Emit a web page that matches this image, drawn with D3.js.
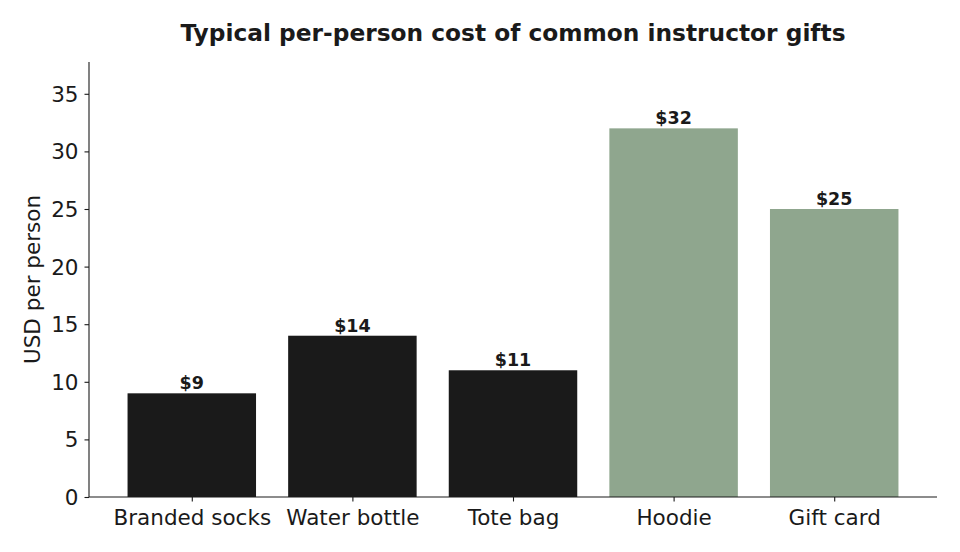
<!DOCTYPE html>
<html lang="en">
<head>
  <meta charset="UTF-8" />
  <title>Instructor gifts</title>
  <script src="https://cdn.jsdelivr.net/npm/d3@7"></script>
  <style>
    body { margin: 0; background: #fff; }
    text { font-family: "DejaVu Sans", sans-serif; fill: #1a1a1a; }
  </style>
</head>
<body>
<script>
  // data
  var categories = ["Branded socks", "Water bottle", "Tote bag", "Hoodie", "Gift card"];
  var costs = [9, 14, 11, 32, 25];
  var barColors = ["#1a1a1a", "#1a1a1a", "#1a1a1a", "#8fa68e", "#8fa68e"];
  var yTicks = [0, 5, 10, 15, 20, 25, 30, 35];

  var w = 960, h = 552;
  var margin = { top: 62, right: 23, bottom: 55, left: 89 };
  var innerW = w - margin.left - margin.right;
  var innerH = h - margin.top - margin.bottom;

  var svg = d3.select("body").append("svg")
    .attr("width", w)
    .attr("height", h);

  var g = svg.append("g")
    .attr("transform", "translate(" + margin.left + "," + margin.top + ")");

  // matplotlib-style band: bars 0.8 wide, 5% margins
  var xScale = d3.scaleLinear()
    .domain([-0.64, categories.length - 1 + 0.64])
    .range([0, innerW]);
  var bandW = xScale(0.4) - xScale(-0.4);

  var yScale = d3.scaleLinear()
    .domain([0, 37.76])
    .range([innerH, 0]);

  g.selectAll("rect")
    .data(costs)
    .enter()
    .append("rect")
    .attr("x", function(d, i) { return xScale(i) - bandW / 2; })
    .attr("width", bandW)
    .attr("y", function(d) { return yScale(d); })
    .attr("height", function(d) { return innerH - yScale(d); })
    .style("fill", function(d, i) { return barColors[i]; });

  g.selectAll(".val")
    .data(costs)
    .enter()
    .append("text")
    .attr("class", "val")
    .attr("x", function(d, i) { return xScale(i); })
    .attr("y", function(d) { return yScale(d) - 4; })
    .attr("text-anchor", "middle")
    .attr("font-size", "17.5px")
    .attr("font-weight", "bold")
    .text(function(d) { return "$" + d; });

  var xAxis = d3.axisBottom(xScale)
    .tickValues(d3.range(categories.length))
    .tickFormat(function(i) { return categories[i]; })
    .tickSize(4.5)
    .tickPadding(5);

  var yAxis = d3.axisLeft(yScale)
    .tickValues(yTicks)
    .tickSize(4.5)
    .tickPadding(6);

  var gx = g.append("g")
    .attr("transform", "translate(0," + innerH + ")")
    .call(xAxis);
  var gy = g.append("g").call(yAxis);

  [gx, gy].forEach(function(a) {
    a.select(".domain").attr("stroke", "#1a1a1a").attr("stroke-width", 1.1)
      .attr("d", a === gx ? "M0,0H" + innerW : "M0," + innerH + "V0");
    a.selectAll(".tick line").attr("stroke", "#1a1a1a").attr("stroke-width", 1.1);
    a.selectAll(".tick text")
      .attr("font-size", "21.5px")
      .style("font-family", "'DejaVu Sans', sans-serif")
      .attr("fill", "#1a1a1a");
  });
  gx.selectAll(".tick text").attr("dy", "0.85em");
  gy.selectAll(".tick text").attr("dy", "0.35em");

  var labX = 40;
  svg.append("text")
    .attr("x", labX)
    .attr("y", margin.top + innerH / 2)
    .attr("transform", "rotate(-90," + labX + "," + (margin.top + innerH / 2) + ")")
    .attr("text-anchor", "middle")
    .attr("font-size", "21.5px")
    .text("USD per person");

  svg.append("text")
    .attr("x", margin.left + innerW / 2)
    .attr("y", 41)
    .attr("text-anchor", "middle")
    .attr("font-size", "23.3px")
    .attr("font-weight", "bold")
    .text("Typical per-person cost of common instructor gifts");
</script>
</body>
</html>
